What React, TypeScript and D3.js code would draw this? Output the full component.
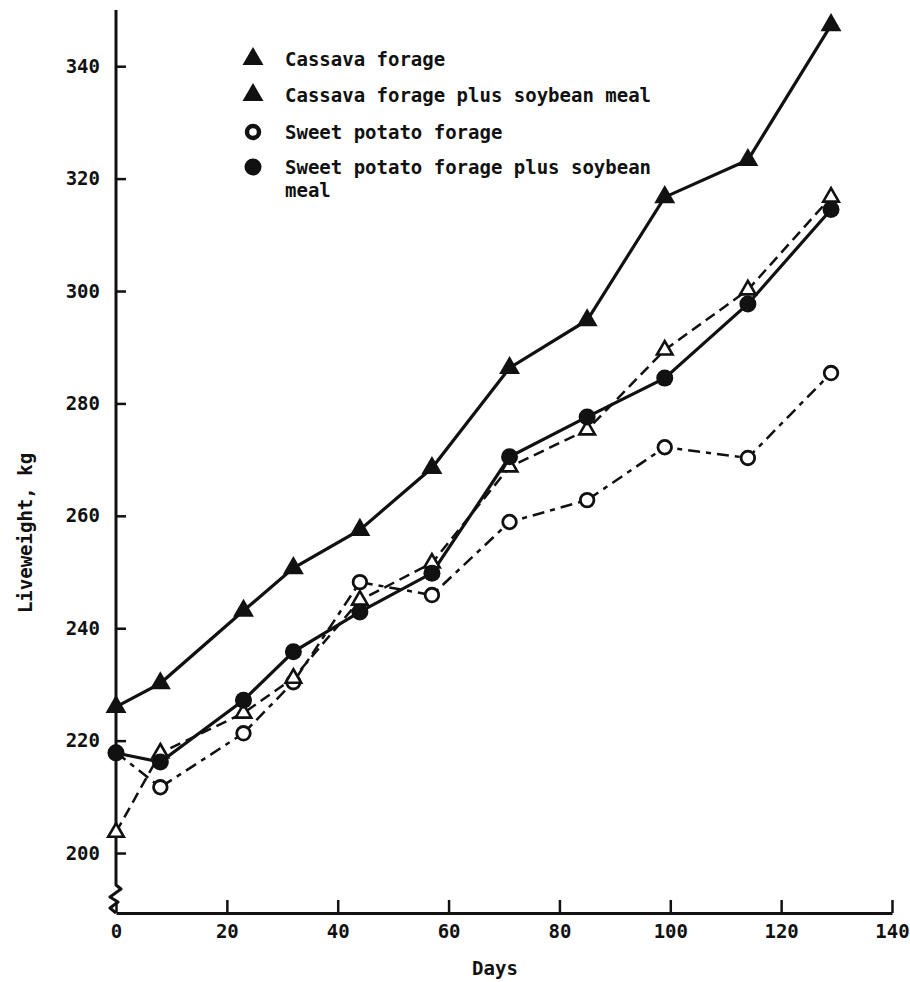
import React, { useEffect, useRef } from "react";
import * as d3 from "d3";

// days of weighing
const days = [0, 8, 23, 32, 44, 57, 71, 85, 99, 114, 129];

// liveweight, kg
const cassavaForage = [203.7, 217.8, 224.9, 231.1, 245, 251.6, 268.7, 275.3, 289.5, 300.2, 316.7];
const cassavaSoy = [226, 230.2, 243.1, 250.7, 257.5, 268.5, 286.3, 294.8, 316.7, 323.3, 347.3];
const sweetPotato = [217.9, 211.7, 221.3, 230.4, 248.2, 245.9, 258.9, 262.8, 272.2, 270.3, 285.4];
const sweetPotatoSoy = [217.8, 216.2, 227.2, 235.8, 242.9, 249.8, 270.5, 277.6, 284.5, 297.7, 314.5];

const xTicks = [0, 20, 40, 60, 80, 100, 120, 140];
const yTicks = [200, 220, 240, 260, 280, 300, 320, 340];

const legendLabels = [
  "Cassava forage",
  "Cassava forage plus soybean meal",
  "Sweet potato forage",
  "Sweet potato forage plus soybean",
];

const FONT = "'DejaVu Sans Mono', 'Liberation Mono', monospace";
const INK = "#111";

const App = () => {
  const svgRef = useRef<SVGSVGElement>(null);

  useEffect(() => {
    const width = 910;
    const height = 982;

    const svg = d3.select(svgRef.current);
    svg.selectAll("*").remove();
    svg.attr("width", width).attr("height", height);

    svg.append("rect").attr("width", width).attr("height", height).attr("fill", "#fff");

    const x = d3.scaleLinear().domain([0, 140]).range([116, 892]);
    const y = d3.scaleLinear().domain([189.33, 350]).range([913, 10]);

    // x axis
    const gx = svg
      .append("g")
      .attr("transform", `translate(0,${y.range()[0]})`)
      .call(d3.axisBottom(x).tickValues(xTicks).tickSizeInner(-13).tickSizeOuter(0).tickPadding(12));
    gx.select(".domain").attr("stroke", INK).attr("stroke-width", 3);
    gx.selectAll(".tick line").attr("stroke", INK).attr("stroke-width", 2.5);
    gx.selectAll(".tick text")
      .attr("font-family", FONT)
      .attr("font-weight", "bold")
      .attr("font-size", 19)
      .attr("fill", INK);

    // y axis (own domain line with break)
    const gy = svg
      .append("g")
      .attr("transform", `translate(${x(0)},0)`)
      .call(d3.axisLeft(y).tickValues(yTicks).tickSizeInner(-10).tickSizeOuter(0).tickPadding(16));
    gy.select(".domain").remove();
    gy.selectAll(".tick line").attr("stroke", INK).attr("stroke-width", 2.5);
    gy.selectAll(".tick text")
      .attr("font-family", FONT)
      .attr("font-weight", "bold")
      .attr("font-size", 19)
      .attr("fill", INK);

    const x0 = x(0);
    const yTop = y.range()[1];
    const yBot = y.range()[0];
    const p = d3.path();
    p.moveTo(x0, yTop);
    p.lineTo(x0, yBot - 28);
    p.lineTo(x0 + 5, yBot - 24);
    p.lineTo(x0 - 6, yBot - 16);
    p.lineTo(x0 + 2, yBot - 11);
    p.lineTo(x0 - 6, yBot - 5);
    p.lineTo(x0, yBot);
    svg
      .append("path")
      .attr("d", p.toString())
      .attr("fill", "none")
      .attr("stroke", INK)
      .attr("stroke-width", 3)
      .attr("stroke-linejoin", "round");

    // axis titles
    svg
      .append("text")
      .attr("transform", `translate(25,533) rotate(-90)`)
      .attr("text-anchor", "middle")
      .attr("dominant-baseline", "central")
      .attr("font-family", FONT)
      .attr("font-weight", "bold")
      .attr("font-size", 19)
      .attr("fill", INK)
      .text("Liveweight, kg");

    svg
      .append("text")
      .attr("x", (x(0) + x(140)) / 2 - 9)
      .attr("y", 968)
      .attr("text-anchor", "middle")
      .attr("dominant-baseline", "central")
      .attr("font-family", FONT)
      .attr("font-weight", "bold")
      .attr("font-size", 19)
      .attr("fill", INK)
      .text("Days");

    const series = [
      { values: sweetPotato, dash: "12,6,5,6", width: 2.5, marker: "openCircle" },
      { values: cassavaForage, dash: "11,6", width: 2.5, marker: "openTriangle" },
      { values: sweetPotatoSoy, dash: null, width: 3.2, marker: "circle" },
      { values: cassavaSoy, dash: null, width: 3.2, marker: "triangle" },
    ];

    const line = d3
      .line<number>()
      .x((_, i) => x(days[i]))
      .y((d) => y(d));

    series.forEach((s) => {
      svg
        .append("path")
        .attr("d", line(s.values))
        .attr("fill", "none")
        .attr("stroke", INK)
        .attr("stroke-width", s.width)
        .attr("stroke-dasharray", s.dash);
    });

    const drawMarker = (g, kind, cx, cy) => {
      if (kind === "triangle") {
        g.append("path")
          .attr("d", d3.symbol(d3.symbolTriangle, 190)())
          .attr("transform", `translate(${cx},${cy})`)
          .attr("fill", INK);
      } else if (kind === "openTriangle") {
        g.append("path")
          .attr("d", d3.symbol(d3.symbolTriangle, 105)())
          .attr("transform", `translate(${cx},${cy})`)
          .attr("fill", "#fff")
          .attr("stroke", INK)
          .attr("stroke-width", 2.6);
      } else if (kind === "circle") {
        g.append("circle").attr("cx", cx).attr("cy", cy).attr("r", 8.5).attr("fill", INK);
      } else {
        g.append("circle")
          .attr("cx", cx)
          .attr("cy", cy)
          .attr("r", 6.8)
          .attr("fill", "#fff")
          .attr("stroke", INK)
          .attr("stroke-width", 2.8);
      }
    };

    series.forEach((s) => {
      const g = svg.append("g");
      s.values.forEach((v, i) => drawMarker(g, s.marker, x(days[i]), y(v)));
    });

    // legend
    const legendY = [59, 95, 132, 167];
    const legendMarkers = ["triangle", "triangle", "thickCircle", "circle"];
    const lg = svg.append("g");
    legendLabels.forEach((label, i) => {
      const kind = legendMarkers[i];
      if (kind === "thickCircle") {
        lg.append("circle")
          .attr("cx", 253)
          .attr("cy", legendY[i])
          .attr("r", 6)
          .attr("fill", "#fff")
          .attr("stroke", INK)
          .attr("stroke-width", 4.5);
      } else {
        drawMarker(lg, kind, 253, legendY[i]);
      }
      lg.append("text")
        .attr("x", 285)
        .attr("y", legendY[i])
        .attr("dominant-baseline", "central")
        .attr("font-family", FONT)
        .attr("font-weight", "bold")
        .attr("font-size", 19)
        .attr("fill", INK)
        .text(label);
    });
    lg.append("text")
      .attr("x", 285)
      .attr("y", 190)
      .attr("dominant-baseline", "central")
      .attr("font-family", FONT)
      .attr("font-weight", "bold")
      .attr("font-size", 19)
      .attr("fill", INK)
      .text("meal");
  }, []);

  return (
    <div style={{ position: "absolute", left: 0, top: 0 }}>
      <svg ref={svgRef}></svg>
    </div>
  );
};

export default App;
